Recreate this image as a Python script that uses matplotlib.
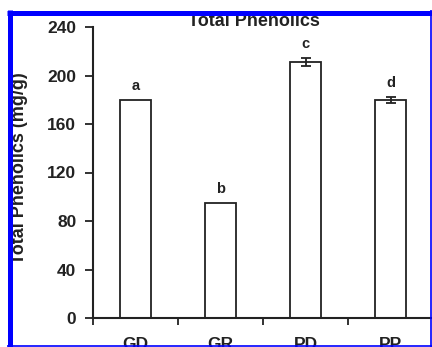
import numpy as np
import matplotlib
matplotlib.use('Agg')
import matplotlib.pyplot as plt
from matplotlib.lines import Line2D

plt.rcParams['font.family'] = ['Liberation Sans', 'DejaVu Sans']
plt.rcParams['font.weight'] = 'bold'

# data
groups = ['GD', 'GR', 'PD', 'PP']
phenolics = [180, 95, 211, 180]
errors = [0, 0, 3.5, 2.5]
letters = ['a', 'b', 'c', 'd']
yticks = [0, 40, 80, 120, 160, 200, 240]

W, H = 432, 347
fig = plt.figure(figsize=(W / 100, H / 100), dpi=100)
ax = fig.add_axes([93 / W, 29 / H, 340 / W, 291 / H])

ink = '#222222'
x = np.arange(len(groups))
ax.bar(x, phenolics, width=0.353, color='white', edgecolor=ink, linewidth=1.3)
ax.errorbar(x[2:], phenolics[2:], yerr=errors[2:], fmt='none', ecolor=ink,
            elinewidth=1.3, capsize=3.5, capthick=1.3)

for xi, v, e, lab in zip(x, phenolics, errors, letters):
    ax.text(xi, v + e + 8, lab, ha='center', va='baseline', fontsize=10.5,
            fontweight='bold', color=ink)

ax.set_xlim(-0.5, 3.5)
ax.set_ylim(0, 240)
ax.set_yticks(yticks)
ax.set_xticks(x)
ax.set_xticks(np.arange(-0.5, 3.6, 1), minor=True)
ax.set_xticklabels(groups)
ax.tick_params(axis='x', which='major', length=0, pad=14, labelsize=12.5, labelcolor=ink)
ax.tick_params(axis='x', which='minor', length=5, width=1.3, color=ink)
ax.tick_params(axis='y', length=6, width=1.3, color=ink, labelsize=12.5,
               labelcolor=ink, pad=6)
for lab in ax.get_xticklabels() + ax.get_yticklabels():
    lab.set_fontweight('bold')

for s in ['top', 'right']:
    ax.spines[s].set_visible(False)
for s in ['left', 'bottom']:
    ax.spines[s].set_linewidth(1.5)
    ax.spines[s].set_color(ink)
ax.spines['bottom'].set_clip_on(False)

fig.text(254 / W, 1 - 26 / H, 'Total Phenolics', ha='center', va='baseline',
         fontsize=13, fontweight='bold', color=ink)
fig.text(20 / W, 1 - 168 / H, 'Total Phenolics (mg/g)', rotation=90,
         ha='center', va='center', fontsize=13, fontweight='bold', color=ink)

# blue highlight frame around the crop
blue = '#0000ff'
frame = [
    ([7 / W, 1.0], [1 - 12.5 / H, 1 - 12.5 / H], 3.6),
    ([9.5 / W, 9.5 / W], [1 - 10 / H, 0], 3.6),
    ([431.3 / W, 431.3 / W], [1 - 10 / H, 0], 1.2),
    ([7 / W, 1.0], [0.7 / H, 0.7 / H], 1.2),
]
for xs, ys, lw in frame:
    fig.add_artist(Line2D(xs, ys, transform=fig.transFigure, color=blue,
                          linewidth=lw, solid_capstyle='butt', zorder=10))

fig.savefig('out.png', dpi=100)
